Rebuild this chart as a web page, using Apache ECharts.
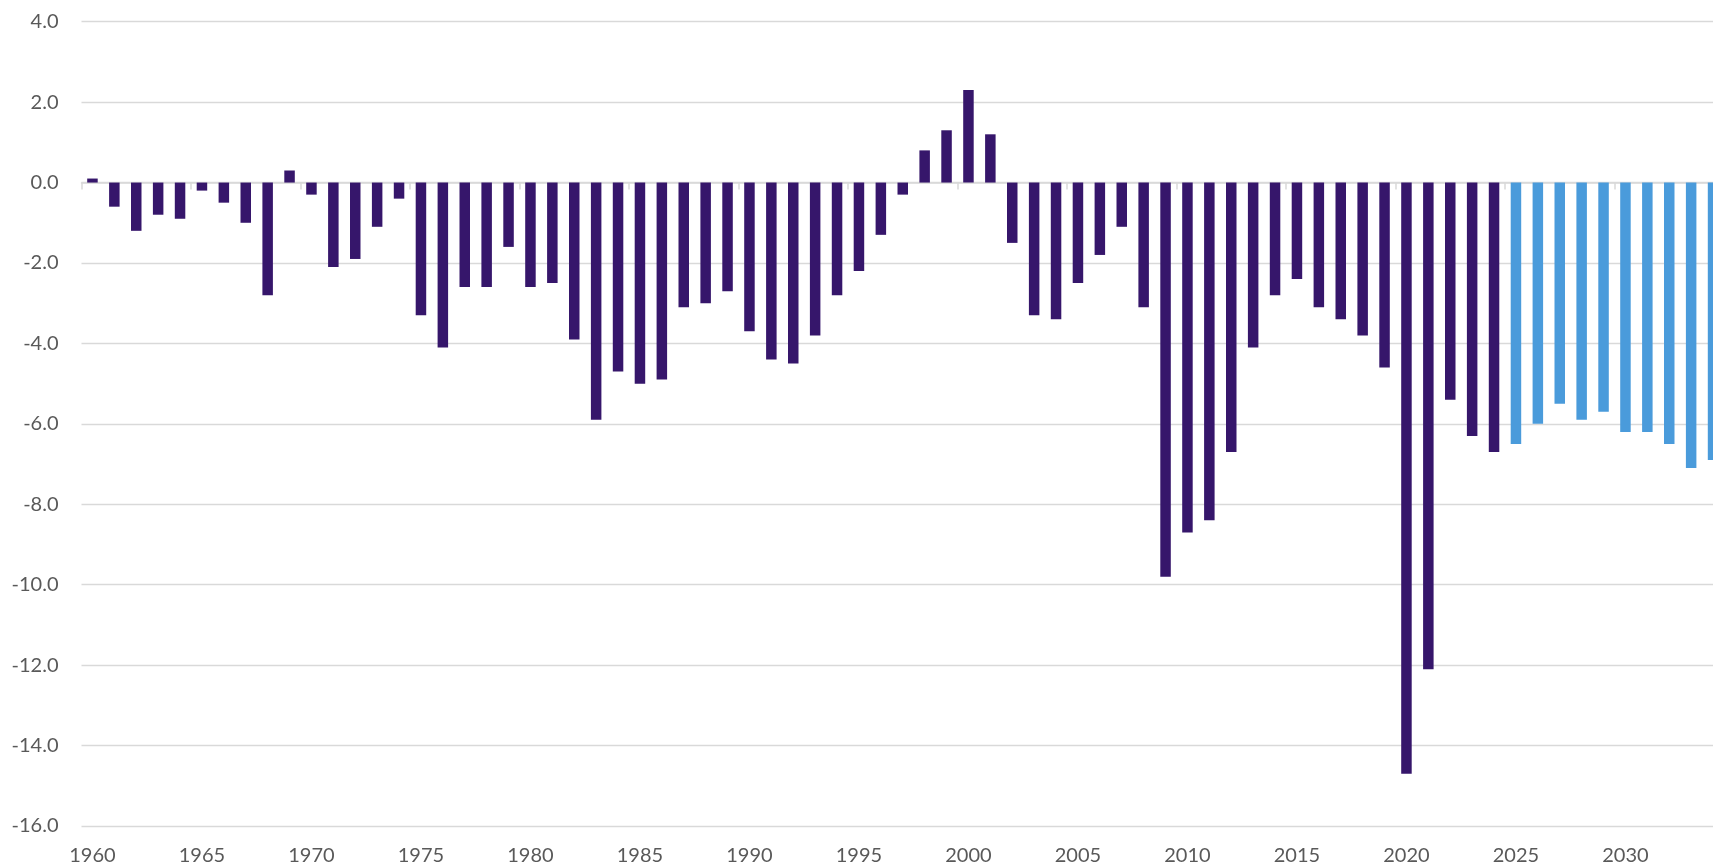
<!DOCTYPE html>
<html>
<head>
<meta charset="utf-8">
<script src="https://cdn.jsdelivr.net/npm/echarts@6/dist/echarts.min.js"></script>
<style>
  html, body { margin: 0; padding: 0; background: #fff; overflow: hidden; }
  /* the source chart is cropped on the right, through the middle of the last bar */
  #chart { width: 1724px; height: 867px; }
</style>
</head>
<body>
<div id="chart"></div>
<script>
// years on the category axis
var years = [];
for (var y = 1960; y <= 2034; y++) years.push(String(y));

// actual balance, % of GDP, 1960-2024
var actual = [0.1, -0.6, -1.2, -0.8, -0.9, -0.2, -0.5, -1.0, -2.8, 0.3,
  -0.3, -2.1, -1.9, -1.1, -0.4, -3.3, -4.1, -2.6, -2.6, -1.6,
  -2.6, -2.5, -3.9, -5.9, -4.7, -5.0, -4.9, -3.1, -3.0, -2.7,
  -3.7, -4.4, -4.5, -3.8, -2.8, -2.2, -1.3, -0.3, 0.8, 1.3,
  2.3, 1.2, -1.5, -3.3, -3.4, -2.5, -1.8, -1.1, -3.1, -9.8,
  -8.7, -8.4, -6.7, -4.1, -2.8, -2.4, -3.1, -3.4, -3.8, -4.6,
  -14.7, -12.1, -5.4, -6.3, -6.7];

// projected balance, % of GDP, 2025-2034
var projected = [-6.5, -6.0, -5.5, -5.9, -5.7, -6.2, -6.2, -6.5, -7.1, -6.9];

// y axis ticks
var yMin = -16, yMax = 4, yStep = 2;

var actualData = [], projData = [];
for (var i = 0; i < years.length; i++) {
  actualData.push(i < actual.length ? actual[i] : null);
  projData.push(i >= actual.length ? projected[i - actual.length] : null);
}

var chart = echarts.init(document.getElementById('chart'));
var txt = '#595959';
var option = {
  animation: false,
  textStyle: { fontFamily: 'Lato' },
  grid: { left: 81.5, right: 0, top: 21.7, bottom: 41, containLabel: false, outerBoundsMode: 'none' },
  xAxis: [
    {
      type: 'category',
      data: years,
      position: 'bottom',
      axisLine: { show: false, onZero: false },
      axisTick: { show: false },
      axisLabel: { interval: 4, color: txt, fontSize: 20, margin: 20, fontFamily: 'Lato' },
      splitLine: { show: false }
    },
    {
      type: 'category',
      data: years,
      position: 'bottom',
      axisLine: { show: true, onZero: true, lineStyle: { color: '#d9d9d9', width: 1.5 } },
      axisTick: { show: true, interval: 4, length: 7, lineStyle: { color: '#d9d9d9', width: 1.5 } },
      axisLabel: { show: false },
      splitLine: { show: false }
    }
  ],
  yAxis: {
    type: 'value',
    min: yMin,
    max: yMax,
    interval: yStep,
    axisLine: { show: false },
    axisTick: { show: false },
    axisLabel: {
      color: txt, fontSize: 20, margin: 23, fontFamily: 'Lato',
      formatter: function (v) { return v.toFixed(1); }
    },
    splitLine: { lineStyle: { color: '#d9d9d9', width: 1.3 } }
  },
  series: [
    {
      name: 'Actual',
      type: 'bar',
      xAxisIndex: 0,
      data: actualData,
      barWidth: 10.5,
      barGap: '-100%',
      itemStyle: { color: '#36166b' }
    },
    {
      name: 'Projected',
      type: 'bar',
      xAxisIndex: 0,
      data: projData,
      barWidth: 10.5,
      barGap: '-100%',
      itemStyle: { color: '#4a9bdb' }
    }
  ]
};
chart.setOption(option);
</script>
</body>
</html>
